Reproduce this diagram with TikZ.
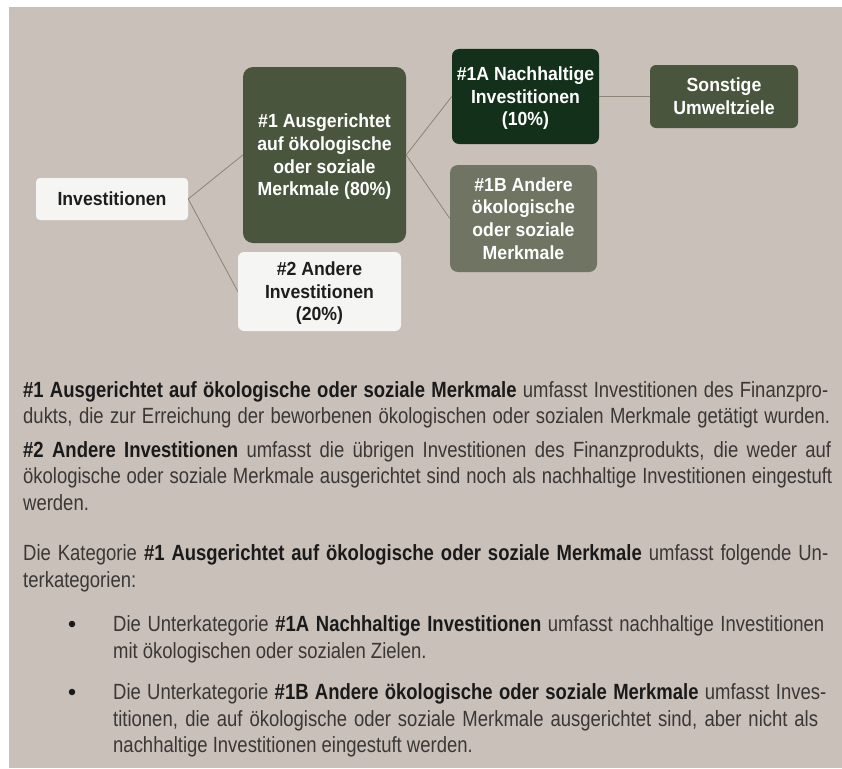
\documentclass[tikz,border=0pt]{standalone}
\usepackage{fontspec}
\setmainfont{Liberation Sans}
\newfontfamily\boxfont[FakeStretch=0.93]{Liberation Sans}
\newfontfamily\bodyfont[FakeStretch=0.84]{Liberation Sans}
\definecolor{cbg}{HTML}{C9C0BA}
\definecolor{cwhite}{HTML}{F5F5F3}
\definecolor{colive}{HTML}{4A553E}
\definecolor{cdeep}{HTML}{13301A}
\definecolor{cgrey}{HTML}{6F7562}
\definecolor{cline}{HTML}{8F8276}
\definecolor{cbody}{HTML}{3A3735}
\definecolor{cbold}{HTML}{1A1A1A}
\definecolor{cdark}{HTML}{1E1E1E}
\newcommand\bpart[1]{{\bfseries\color{cbold}#1}}
\newcommand\jline[2]{\makebox[#1pt][s]{#2}}
\tikzset{
  tbox/.style={draw=none, inner sep=0pt, align=center,
    font=\boxfont\bfseries\fontsize{19}{22.6}\selectfont},
  lightbox/.style={tbox, fill=cwhite, text=cdark},
  darkbox/.style={tbox, text=white},
  conn/.style={draw=cline, line width=0.8pt},
  bline/.style={anchor=base west, inner sep=0pt,
    font=\bodyfont\fontsize{22}{26}\selectfont, text=cbody},
  bulletdot/.style={circle, fill=cbold, minimum size=6.5pt, inner sep=0pt}
}
\begin{document}
\begin{tikzpicture}[x=1pt,y=-1pt]
\useasboundingbox (0,0) rectangle (842,768);
\fill[white] (0,0) rectangle (842,768);
\fill[cbg] (9,7) rectangle (842,768);

% boxes
\node[lightbox, rounded corners=4pt, minimum width=152pt, minimum height=42pt] (inv) at (112,199) {Investitionen};
\node[darkbox, fill=colive, rounded corners=10pt, minimum width=163pt, minimum height=176pt, text depth=0pt] (n1) at (324.5,155)
  {\#1 Ausgerichtet\\auf ökologische\\oder soziale\\Merkmale (80\%)};
\node[lightbox, rounded corners=6pt, minimum width=163pt, minimum height=79pt, text depth=0pt] (n2) at (319.5,291.5)
  {\#2 Andere\\Investitionen\\(20\%)};
\node[darkbox, fill=cdeep, rounded corners=7pt, minimum width=147pt, minimum height=95pt, text depth=0pt] (n1a) at (525.5,96.5)
  {\#1A Nachhaltige\\Investitionen\\(10\%)};
\node[darkbox, fill=colive, rounded corners=6pt, minimum width=148pt, minimum height=63pt] (son) at (724,96.5)
  {Sonstige\\Umweltziele};
\node[darkbox, fill=cgrey, rounded corners=8pt, minimum width=147pt, minimum height=107pt] (n1b) at (523.5,218.5)
  {\#1B Andere\\ökologische\\oder soziale\\Merkmale};

% connectors
\draw[conn] (inv.east) -- (n1.west);
\draw[conn] (inv.east) -- (n2.west);
\draw[conn] (n1.east) -- (n1a.west);
\draw[conn] (n1.east) -- (n1b.west);
\draw[conn] (n1a.east) -- (son.west);

% explanatory text
\node[bline] (l1) at (23,397) {\jline{805}{\bpart{\#1 Ausgerichtet auf ökologische oder soziale Merkmale} umfasst Investitionen des Finanzpro-}};
\node[bline] (l2) at (23,423.5) {\jline{807}{dukts, die zur Erreichung der beworbenen ökologischen oder sozialen Merkmale getätigt wurden.}};
\node[bline] (l3) at (23,457) {\jline{808}{\bpart{\#2 Andere Investitionen} umfasst die übrigen Investitionen des Finanzprodukts, die weder auf}};
\node[bline] (l4) at (23,483.5) {\jline{809}{ökologische oder soziale Merkmale ausgerichtet sind noch als nachhaltige Investitionen eingestuft}};
\node[bline] (l5) at (23,510) {werden.};
\node[bline] (l6) at (23,560) {\jline{805}{Die Kategorie \bpart{\#1 Ausgerichtet auf ökologische oder soziale Merkmale} umfasst folgende Un-}};
\node[bline] (l7) at (23,587) {terkategorien:};

\node[bulletdot] (b1) at (72,624) {};
\node[bline] (l8) at (113,631) {\jline{711}{Die Unterkategorie \bpart{\#1A Nachhaltige Investitionen} umfasst nachhaltige Investitionen}};
\node[bline] (l9) at (113,658) {mit ökologischen oder sozialen Zielen.};
\node[bulletdot] (b2) at (72,692) {};
\node[bline] (l10) at (113,699) {\jline{713}{Die Unterkategorie \bpart{\#1B Andere ökologische oder soziale Merkmale} umfasst Inves-}};
\node[bline] (l11) at (113,726) {\jline{705}{titionen, die auf ökologische oder soziale Merkmale ausgerichtet sind, aber nicht als}};
\node[bline] (l12) at (113,752) {nachhaltige Investitionen eingestuft werden.};
\end{tikzpicture}
\end{document}
